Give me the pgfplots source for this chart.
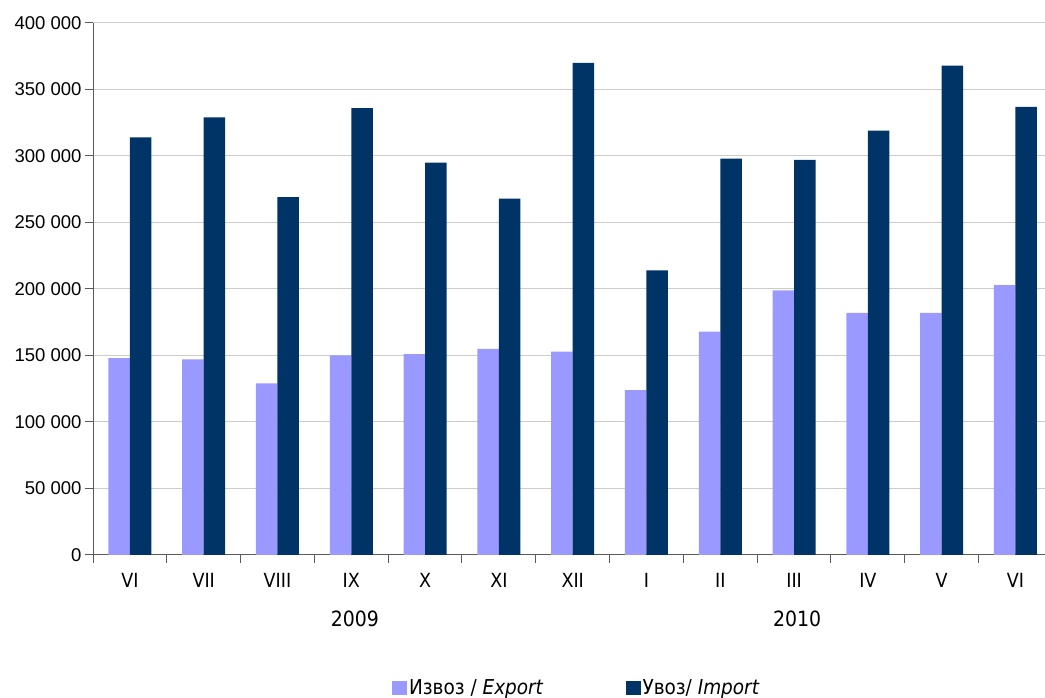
\documentclass[border=0pt]{standalone}
\usepackage{fontspec}
\setmainfont{DejaVu Sans Condensed}
\newfontfamily\tickfont{Liberation Sans}
\usepackage{pgfplots}
\pgfplotsset{compat=1.18}
\definecolor{exportc}{RGB}{153,153,255}
\definecolor{importc}{RGB}{0,51,102}
\definecolor{axisgray}{RGB}{90,90,90}

\pgfplotsset{
  ybar legend/.style={
    /pgfplots/legend image code/.code={%
      \fill[##1] (0pt,-7pt) rectangle (15pt,7pt);}},
}

\begin{document}
\begin{tikzpicture}
\path[use as bounding box] (0,0) rectangle (1045pt,698pt);
\begin{axis}[
  at={(93pt,143pt)}, anchor=south west,
  scale only axis, width=952pt, height=532pt,
  ybar=0pt, bar width=21.5pt,
  xmin=-0.5, xmax=12.4,
  ymin=0, ymax=400000,
  clip=false,
  axis lines=left,
  axis line style={-, draw=axisgray, line width=1pt},
  tick align=outside,
  major tick length=8pt,
  tick style={draw=axisgray, line width=1pt},
  xtick={-0.5,0.5,1.5,2.5,3.5,4.5,5.5,6.5,7.5,8.5,9.5,10.5,11.5},
  xticklabels={VI,VII,VIII,IX,X,XI,XII,I,II,III,IV,V,VI},
  xticklabel style={xshift=36.9pt, yshift=-7pt, font=\fontsize{19.5}{22}\selectfont},
  ytick={0,50000,100000,150000,200000,250000,300000,350000,400000},
  yticklabels={0,50 000,100 000,150 000,200 000,250 000,300 000,350 000,400 000},
  yticklabel style={font=\tickfont\fontsize{18.5}{21}\selectfont},
  ymajorgrids,
  grid style={draw=gray!40, line width=1pt},
  scaled y ticks=false,
  legend columns=2,
  legend style={
    at={(0.314,-0.25)}, anchor=west,
    draw=none, fill=none, inner sep=0pt,
    font=\fontsize{20.5}{23}\selectfont,
    /tikz/every even column/.append style={column sep=80pt},
  },
]
\addplot[fill=exportc, draw=none] coordinates {
  (0,148000) (1,147000) (2,129000) (3,150000) (4,151000) (5,155000) (6,153000)
  (7,124000) (8,168000) (9,199000) (10,182000) (11,182000) (12,203000)
};
\addlegendentry{Извоз / \textit{Export}}
\addplot[fill=importc, draw=none] coordinates {
  (0,314000) (1,329000) (2,269000) (3,336000) (4,295000) (5,268000) (6,370000)
  (7,214000) (8,298000) (9,297000) (10,319000) (11,368000) (12,337000)
};
\addlegendentry{Увоз/ \textit{Import}}
\node[font=\fontsize{21}{24}\selectfont] at (axis cs:3.05,0) [yshift=-64pt] {2009};
\node[font=\fontsize{21}{24}\selectfont] at (axis cs:9.04,0) [yshift=-64pt] {2010};
\end{axis}
\end{tikzpicture}
\end{document}
